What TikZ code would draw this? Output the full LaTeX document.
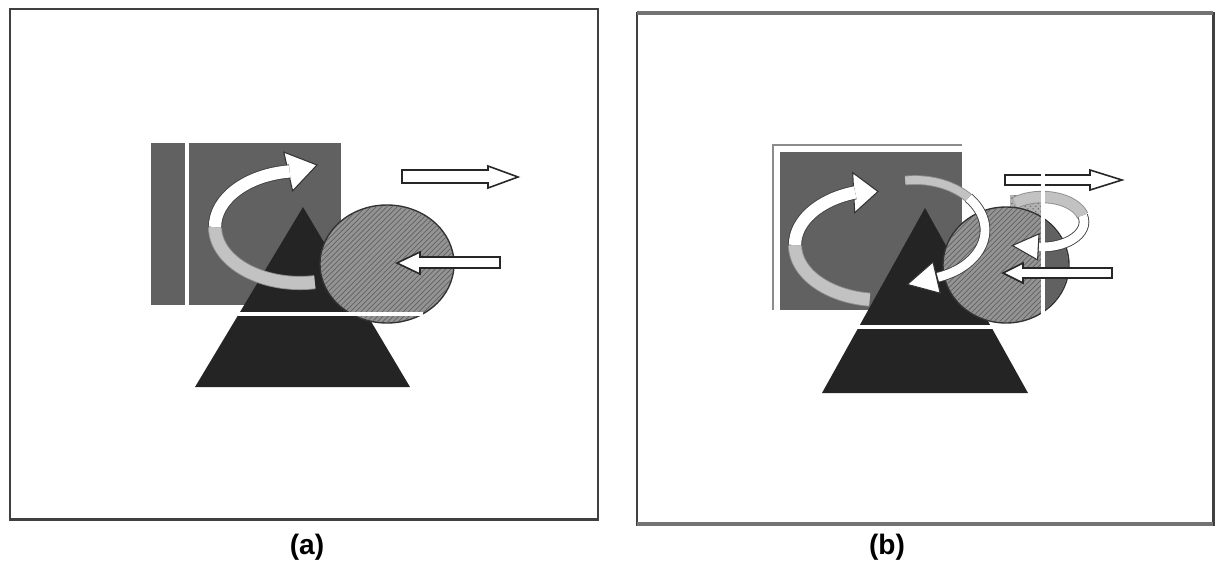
\documentclass[tikz,border=0pt]{standalone}
\usepackage{fontspec}
\newfontfamily\capfont{Liberation Sans}
\usetikzlibrary{calc, patterns}

\tikzset{
  panelframe/.style={draw=black!75, line width=1.7pt},
  slab/.style={fill=black!62},
  cone/.style={fill=black!86},
  disc/.style={fill=black!42, draw=black!80, line width=0.8pt},
  hatch/.style={pattern=north east lines, pattern color=black!62},
  gapline/.style={draw=white, line width=2.2pt},
  bandfront/.style={draw=black!75, line width=0.5pt, double=white, double distance=#1},
  bandfront/.default=7pt,
  bandback/.style={draw=black!45, line width=0.5pt, double=black!24, double distance=#1},
  bandback/.default=7pt,
  headtip/.style={fill=white, draw=black!80, line width=0.6pt, line join=miter},
  flatarrow/.style={fill=white, draw=black!85, line width=0.9pt, line join=miter},
  caption/.style={font=\capfont\bfseries\fontsize{16}{19}\selectfont}
}

\begin{document}
\begin{tikzpicture}[x=0.02cm, y=-0.02cm]
  \useasboundingbox (0,0) rectangle (1215,562);

  % centres of the rings and discs
  \coordinate (ringA) at (300,227);
  \coordinate (discA) at (387,264);
  \coordinate (ringB) at (880,245);
  \coordinate (loopB) at (915,230);
  \coordinate (spinB) at (1042,222);
  \coordinate (discB) at (1006,265);

  %%% panel (a)
  \draw[panelframe] (10,9) rectangle (598,519);
  \fill[slab] (151,143) rectangle (341,305);
  \draw[gapline] (187,143) -- (187,305);
  \fill[cone] (303,207) -- (410,387) -- (195,387) -- cycle;

  % turning band
  \draw[bandback] ($(ringA)+(180:85 and 56)$) arc[start angle=180, end angle=80, x radius=85, y radius=56];
  \filldraw[headtip] (292.6,190.9) -- (317,165) -- (283.8,152.1) -- cycle;
  \draw[bandfront] ($(ringA)+(180:85 and 56)$) arc[start angle=180, end angle=263, x radius=85, y radius=56];

  \filldraw[disc] (discA) ellipse [x radius=67, y radius=59];
  \fill[hatch] (discA) ellipse [x radius=66, y radius=58];
  \draw[gapline] (238,314) -- (423,314);

  \filldraw[flatarrow] (402,170) -- (488,170) -- (488,166) -- (518,177) -- (488,188) -- (488,183) -- (402,183) -- cycle;
  \filldraw[flatarrow] (500,257) -- (420,257) -- (420,252) -- (397,263) -- (420,274) -- (420,268) -- (500,268) -- cycle;

  \node[caption] (capA) at (307,547) {(a)};

  %%% panel (b)
  \draw[panelframe] (637,13) rectangle (1213,524);
  \draw[black!55, line width=2.6pt] (637,13) -- (1213,13);
  \draw[black!55, line width=2.6pt] (637,524) -- (1213,524);

  \draw[black!45, line width=1pt] (773,310) -- (773,145) -- (962,145);
  \fill[slab] (780,152) rectangle (962,310);

  \draw[bandback] ($(ringB)+(180:85 and 55)$) arc[start angle=180, end angle=97, x radius=85, y radius=55];
  \fill[cone] (925,208) -- (1028,393) -- (822,393) -- cycle;
  \filldraw[headtip] (854.7,212.7) -- (878,191.5) -- (852.7,172.7) -- cycle;
  \draw[bandfront] ($(ringB)+(180:85 and 55)$) arc[start angle=180, end angle=253, x radius=85, y radius=55];

  % back halves of the two loops
  \draw[bandback=4.5pt] ($(loopB)+(262:70 and 50)$) arc[start angle=262, end angle=322, x radius=70, y radius=50];
  \fill[black!30] (1010,195) rectangle (1043,217);
  \fill[pattern=crosshatch dots, pattern color=black!55] (1010,195) rectangle (1043,217);
  \draw[bandback=6pt] ($(spinB)+(230:42 and 25)$) arc[start angle=230, end angle=345, x radius=42, y radius=25];

  \filldraw[disc] (discB) ellipse [x radius=63, y radius=58];
  \begin{scope}
    \clip (discB) ellipse [x radius=62, y radius=57];
    \fill[black!62] (1045,150) rectangle (1080,340);
  \end{scope}
  \fill[hatch] (discB) ellipse [x radius=62, y radius=57];

  % front halves of the two loops
  \filldraw[headtip] (940.2,293.2) -- (907.4,284.4) -- (933,262) -- cycle;
  \draw[bandfront=5pt] ($(loopB)+(320:70 and 50)$) arc[start angle=320, end angle=431, x radius=70, y radius=50];
  \filldraw[headtip] (1037.6,259.9) -- (1012.4,245.5) -- (1039,233.9) -- cycle;
  \draw[bandfront=5pt] ($(spinB)+(345:42 and 25)$) arc[start angle=345, end angle=454, x radius=42, y radius=25];

  \filldraw[flatarrow] (1005,175) -- (1090,175) -- (1090,170) -- (1122,180) -- (1090,190) -- (1090,185) -- (1005,185) -- cycle;

  \draw[gapline] (857,327) -- (1013,327);
  \draw[draw=white, line width=2.8pt] (1043,168) -- (1043,322);

  \filldraw[flatarrow] (1112,268) -- (1023,268) -- (1023,263) -- (1003,273) -- (1023,283) -- (1023,278) -- (1112,278) -- cycle;

  \node[caption] (capB) at (887,547) {(b)};
\end{tikzpicture}
\end{document}
